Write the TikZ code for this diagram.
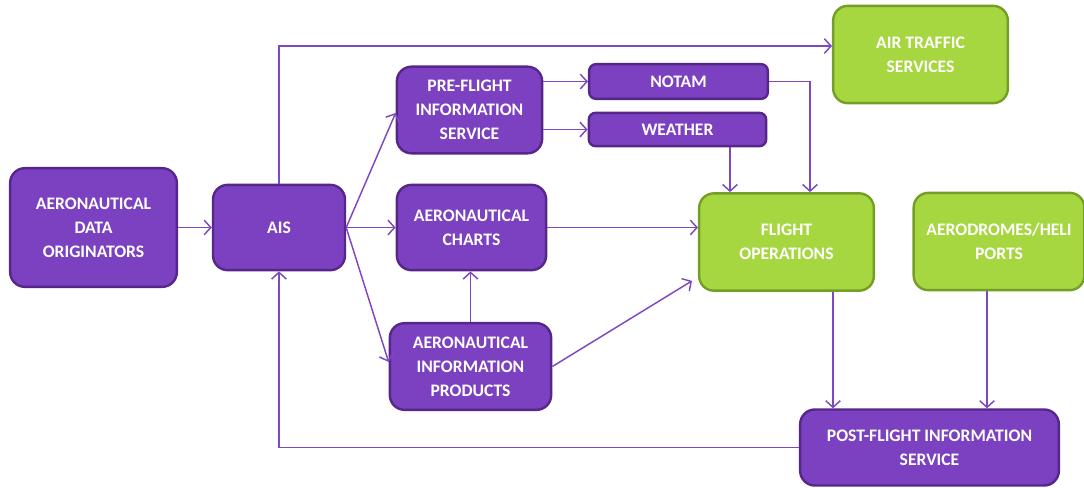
\documentclass[tikz,border=0pt]{standalone}
\usepackage{fontspec}
\setmainfont{Carlito}
\usetikzlibrary{arrows.meta}

\definecolor{aispurple}{RGB}{123,65,192}
\definecolor{aisborder}{RGB}{86,38,138}
\definecolor{opsgreen}{RGB}{166,214,64}
\definecolor{opsborder}{RGB}{116,158,38}
\definecolor{linepurple}{RGB}{126,72,192}

\begin{document}
\begin{tikzpicture}[x=0.75pt,y=-0.75pt,
purplebox/.style={rectangle, rounded corners=11pt, draw=aisborder, line width=1.8pt, fill=aispurple, text=white, font=\bfseries\fontsize{13.2}{18}\selectfont, align=center, inner sep=0pt},
greenbox/.style={purplebox, draw=opsborder, fill=opsgreen},
barbox/.style={purplebox, rounded corners=5pt},
flow/.style={draw=linepurple, line width=1.1pt, -{Straight Barb[length=5pt,width=11pt,line width=1.1pt]}},
]
\useasboundingbox (0,0) rectangle (1084,487);

%Nodes
\node[purplebox, minimum width=125pt, minimum height=89pt] (ado)     at (93.5,227.5) {AERONAUTICAL\\DATA\\ORIGINATORS};
\node[purplebox, minimum width=99pt, minimum height=64pt]  (ais)     at (279,227.5)  {AIS};
\node[purplebox, minimum width=109pt, minimum height=65pt] (pfis)    at (469.5,110)  {PRE-FLIGHT\\INFORMATION\\SERVICE};
\node[barbox, minimum width=134pt, minimum height=26pt]    (notam)   at (678.5,81.5) {NOTAM};
\node[barbox, minimum width=133pt, minimum height=25pt]    (weather) at (677.5,129.5) {WEATHER};
\node[purplebox, minimum width=112pt, minimum height=64pt] (charts)  at (471.5,227.5) {AERONAUTICAL\\CHARTS};
\node[purplebox, minimum width=121pt, minimum height=65pt] (aip)     at (470.5,366.5) {AERONAUTICAL\\INFORMATION\\PRODUCTS};
\node[greenbox, minimum width=131pt, minimum height=73pt]  (fo)      at (786.5,242)  {FLIGHT\\OPERATIONS};
\node[greenbox, minimum width=128pt, minimum height=73pt]  (adh)     at (999,241.5)  {AERODROMES/HELI\\PORTS};
\node[greenbox, minimum width=131pt, minimum height=73pt]  (ats)     at (920.5,54.5) {AIR TRAFFIC\\SERVICES};
\node[purplebox, minimum width=194pt, minimum height=57pt] (post)    at (929.5,447.5) {POST-FLIGHT INFORMATION\\SERVICE};

%Lines
\draw[flow] (ado) -- (ais);
\draw[flow] (ais.north) |- ([shift={(0,-8.5)}]ats.west);
\draw[flow] (ais.east) -- ([shift={(0,3)}]pfis.west);
\draw[flow] (ais.east) -- (charts.west);
\draw[flow] (ais.east) -- ([shift={(0,-4.5)}]aip.west);
\draw[flow] (pfis.east |- notam.west) -- (notam.west);
\draw[flow] (pfis.east |- weather.west) -- (weather.west);
\draw[flow] (notam.east) -| ([shift={(23.5,0)}]fo.north);
\draw[flow] ([shift={(-56.5,0)}]fo.north |- weather.south) -- ([shift={(-56.5,0)}]fo.north);
\draw[flow] (charts.east) -- (charts.east -| fo.west);
\draw[flow] (aip.north) -- (aip.north |- charts.south);
\draw[flow] (aip.east) -- ([shift={(-6,-11)}]fo.south west);
\draw[flow] ([shift={(46.5,0)}]fo.south) -- ([shift={(46.5,0)}]fo.south |- post.north);
\draw[flow] ([shift={(-12,0)}]adh.south) -- ([shift={(-12,0)}]adh.south |- post.north);
\draw[flow] (post.west) -| (ais.south);
\end{tikzpicture}
\end{document}
